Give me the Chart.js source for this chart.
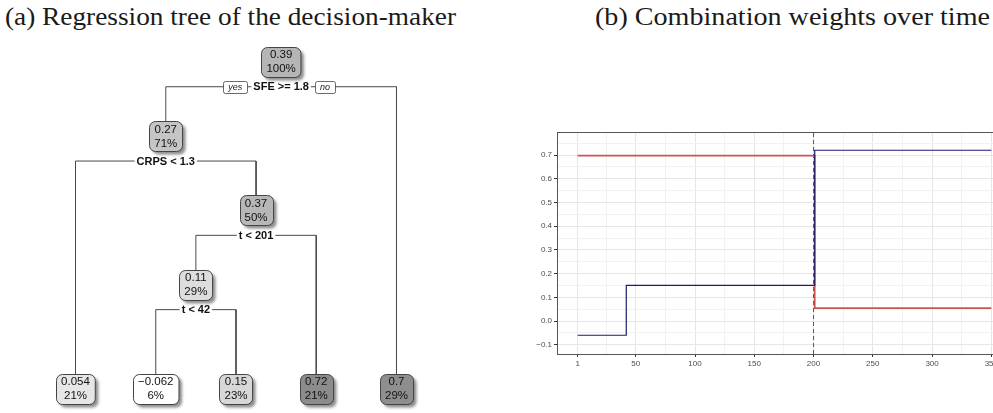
<!DOCTYPE html>
<html>
<head>
<meta charset="utf-8">
<script src="https://cdn.jsdelivr.net/npm/chart.js@4.4.1/dist/chart.umd.min.js"></script>
<style>
    html, body { margin: 0; padding: 0; background: #fff; width: 993px; height: 413px; overflow: hidden; position: relative; }
    .title { position: absolute; top: 4px; font-family: "Liberation Serif", serif; font-size: 25px; line-height: 25px; color: #1a1a1a; white-space: nowrap; transform-origin: left top; }
    #tree-box { position: absolute; left: 0; top: 40px; width: 470px; height: 373px; }
    #weights-box { position: absolute; left: 525px; top: 120px; width: 487px; height: 255px; }
</style>
</head>
<body>
<div class="title" data-width="451" style="left:5px">(a) Regression tree of the decision-maker</div>
<div class="title" data-width="395" style="left:595px">(b) Combination weights over time</div>
<div id="tree-box"><canvas id="tree-chart"></canvas></div>
<div id="weights-box"><canvas id="weights-chart"></canvas></div>
<script>
// (a) regression tree, nodes in depth-first order (first child = "yes")
const NODE_VALUES = [0.39, 0.27, 0.054, 0.37, 0.11, -0.062, 0.15, 0.72, 0.7];
const NODE_PERCENTS = [100, 71, 21, 50, 29, 6, 23, 21, 29];
const NODE_PARENTS = [-1, 0, 1, 1, 3, 4, 4, 3, 0];
const NODE_SPLITS = ['SFE >= 1.8', 'CRPS < 1.3', '', 't < 201', 't < 42', '', '', '', ''];

// (b) combination weights, step functions of t
const BLUE_T = [1, 42, 201, 350];
const BLUE_W = [-0.06, 0.15, 0.72, 0.72];
const RED_T = [1, 201, 350];
const RED_W = [0.697, 0.054, 0.054];
const BREAK_T = 200;
const X_TICKS = [1, 50, 100, 150, 200, 250, 300, 350];
const X_MINOR = [25.5, 75, 125, 175, 225, 275, 325];
const Y_TICKS = [-0.1, 0, 0.1, 0.2, 0.3, 0.4, 0.5, 0.6, 0.7];
const Y_MINOR = [-0.05, 0.05, 0.15, 0.25, 0.35, 0.45, 0.55, 0.65, 0.75];
const X_MIN = -16.45, X_MAX = 367.45;
const Y_MIN = -0.139, Y_MAX = 0.797;

const SANS = '"Liberation Sans", Arial, sans-serif';
Chart.defaults.font.family = SANS;

// fit the serif titles to the widths they have in the paper
document.querySelectorAll('.title').forEach(el => {
    const w = el.getBoundingClientRect().width;
    el.style.transform = `scaleX(${el.dataset.width / w})`;
});

// ---- tree layout: leaves side by side, parents midway, leaves at the bottom
const LEAF_DEPTH = 4.4;
const SPLIT_DROP = 0.337;

const children = NODE_VALUES.map(() => []);
NODE_PARENTS.forEach((p, i) => { if (p >= 0) children[p].push(i); });
const pos = [];
let leafCount = 0;
function place(i, depth) {
    if (children[i].length === 0) { pos[i] = { x: leafCount++, y: LEAF_DEPTH }; return; }
    children[i].forEach(c => place(c, depth + 1));
    const [l, r] = children[i];
    pos[i] = { x: (pos[l].x + pos[r].x) / 2, y: depth };
}
place(0, 0);

const branchSets = [];
children.forEach((kids, i) => {
    if (!kids.length) return;
    const [l, r] = kids;
    const sy = pos[i].y + SPLIT_DROP;
    branchSets.push({
        data: [{ x: pos[l].x, y: pos[l].y }, { x: pos[l].x, y: sy }, { x: pos[r].x, y: sy }, { x: pos[r].x, y: pos[r].y }],
        showLine: true, borderColor: '#4a4a4a', borderWidth: 1, pointRadius: 0, tension: 0
    });
});

function fmtValue(v) { return String(Number(v.toPrecision(2))).replace('-', '\u2212'); }

function nodeFill(v) {
    const lo = Math.min(...NODE_VALUES), hi = Math.max(...NODE_VALUES);
    const t = (v - lo) / (hi - lo);
    const g = Math.round(255 - 115 * Math.pow(t, 0.8));
    return `rgb(${g},${g},${g})`;
}

function drawTag(ctx, text, x, y, side) {
    ctx.font = `italic 9px ${SANS}`;
    const w = ctx.measureText(text).width + 10;
    const left = side < 0 ? x - w : x;
    ctx.beginPath(); ctx.roundRect(Math.round(left) + 0.5, Math.round(y - 6) + 0.5, w, 12, 2);
    ctx.fillStyle = '#fff'; ctx.fill();
    ctx.strokeStyle = '#444'; ctx.lineWidth = 0.8; ctx.stroke();
    ctx.fillStyle = '#222'; ctx.fillText(text, left + w / 2, y + 0.5);
}

const treeDraw = {
    id: 'treeDraw',
    afterDatasetsDraw(chart) {
        const ctx = chart.ctx;
        const meta = chart.getDatasetMeta(chart.data.datasets.length - 1);
        const ys = chart.scales.y;
        ctx.save();
        ctx.textAlign = 'center'; ctx.textBaseline = 'middle';

        NODE_SPLITS.forEach((s, i) => {
            if (!s) return;
            const px = meta.data[i].x;
            const py = ys.getPixelForValue(pos[i].y + SPLIT_DROP);
            ctx.font = `bold 11px ${SANS}`;
            const w = ctx.measureText(s).width;
            ctx.fillStyle = '#fff';
            ctx.fillRect(px - w / 2 - 2, py - 6, w + 4, 12);
            ctx.fillStyle = '#111';
            ctx.fillText(s, px, py + 0.5);
            if (i === 0) {
                drawTag(ctx, 'yes', px - w / 2 - 6, py, -1);
                drawTag(ctx, 'no', px + w / 2 + 6, py, 1);
            }
        });

        NODE_VALUES.forEach((v, i) => {
            const px = meta.data[i].x, py = meta.data[i].y;
            const top = fmtValue(v), bot = NODE_PERCENTS[i] + '%';
            ctx.font = `11.5px ${SANS}`;
            const w = Math.max(ctx.measureText(top).width, ctx.measureText(bot).width) + 10, h = 30;
            const bx = Math.round(px - w / 2) + 0.5, by = Math.round(py - h / 2) + 0.5;
            ctx.shadowColor = 'rgba(0,0,0,0.45)'; ctx.shadowBlur = 3; ctx.shadowOffsetX = 3; ctx.shadowOffsetY = 3;
            ctx.beginPath(); ctx.roundRect(bx, by, w, h, 6);
            ctx.fillStyle = nodeFill(v); ctx.fill();
            ctx.shadowColor = 'rgba(0,0,0,0)'; ctx.shadowBlur = 0; ctx.shadowOffsetX = 0; ctx.shadowOffsetY = 0;
            ctx.strokeStyle = '#444'; ctx.lineWidth = 1; ctx.stroke();
            ctx.fillStyle = '#111';
            ctx.fillText(top, px, py - 6.5);
            ctx.fillText(bot, px, py + 7.5);
        });
        ctx.restore();
    }
};

new Chart(document.getElementById('tree-chart'), {
    type: 'scatter',
    data: { datasets: [...branchSets, { data: pos, pointRadius: 0, pointHoverRadius: 0 }] },
    options: {
        responsive: true, maintainAspectRatio: false, animation: false, events: [],
        layout: { padding: 0 },
        plugins: { legend: { display: false }, tooltip: { enabled: false } },
        scales: {
            x: { type: 'linear', display: false, min: -0.941, max: 4.916 },
            y: { type: 'linear', display: false, reverse: true, min: -0.292, max: 4.728 }
        }
    },
    plugins: [treeDraw]
});

// ---- combination weights chart
const toPoints = (ts, ws) => ts.map((t, i) => ({ x: t, y: ws[i] }));
const isMajor = (list, c) => !!c.tick && list.includes(c.tick.value);

const panelBorder = {
    id: 'panelBorder',
    afterDraw(chart) {
        const { ctx, chartArea: a } = chart;
        ctx.save();
        ctx.strokeStyle = '#555'; ctx.lineWidth = 1;
        ctx.strokeRect(Math.round(a.left) + 0.5, Math.round(a.top) + 0.5, a.width, Math.round(a.height));
        ctx.restore();
    }
};

new Chart(document.getElementById('weights-chart'), {
    type: 'line',
    data: {
        datasets: [
            { data: toPoints(BLUE_T, BLUE_W), borderColor: '#1d1d70', borderWidth: 1.2, stepped: true, pointRadius: 0 },
            { data: toPoints(RED_T, RED_W), borderColor: '#cc5552', borderWidth: 1.7, stepped: true, pointRadius: 0 },
            { data: [{ x: BREAK_T, y: Y_MIN }, { x: BREAK_T, y: Y_MAX }], borderColor: '#555', borderWidth: 1, borderDash: [4, 3], pointRadius: 0 }
        ]
    },
    options: {
        responsive: true, maintainAspectRatio: false, animation: false, events: [],
        layout: { padding: { top: 12, left: 0, right: 0, bottom: 0 } },
        plugins: { legend: { display: false }, tooltip: { enabled: false } },
        scales: {
            x: {
                type: 'linear', min: X_MIN, max: X_MAX,
                afterBuildTicks: a => { a.ticks = [...X_TICKS, ...X_MINOR].sort((p, q) => p - q).map(v => ({ value: v })); },
                afterFit: a => { a.height = 21; },
                ticks: { autoSkip: false, maxRotation: 0, padding: 2, color: '#4d4d4d', font: { size: 8 },
                    callback: v => X_TICKS.includes(v) ? String(v) : '' },
                grid: { color: c => isMajor(X_TICKS, c) ? '#e6e6e6' : '#f2f2f2', lineWidth: 1, tickLength: 3, tickWidth: 1,
                    tickColor: c => isMajor(X_TICKS, c) ? '#333' : 'rgba(0,0,0,0)' },
                border: { display: false }
            },
            y: {
                type: 'linear', min: Y_MIN, max: Y_MAX,
                afterBuildTicks: a => { a.ticks = [...Y_TICKS, ...Y_MINOR].sort((p, q) => p - q).map(v => ({ value: v })); },
                afterFit: a => { a.width = 32; },
                ticks: { autoSkip: false, padding: 2, color: '#4d4d4d', font: { size: 8 },
                    callback: v => Y_TICKS.includes(v) ? v.toFixed(1).replace('-', '\u2212') : '' },
                grid: { color: c => isMajor(Y_TICKS, c) ? '#e6e6e6' : '#f2f2f2', lineWidth: 1, tickLength: 3, tickWidth: 1,
                    tickColor: c => isMajor(Y_TICKS, c) ? '#333' : 'rgba(0,0,0,0)' },
                border: { display: false }
            }
        }
    },
    plugins: [panelBorder]
});
</script>
</body>
</html>
